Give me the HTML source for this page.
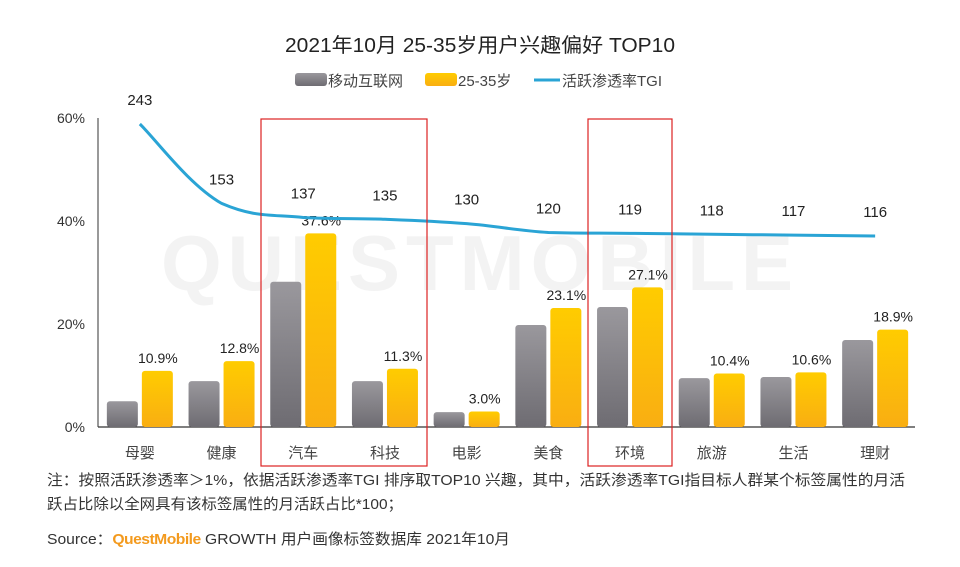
<!DOCTYPE html>
<html><head><meta charset="utf-8"><style>
body{margin:0;background:#fff;font-family:"Liberation Sans","Noto Sans CJK SC",sans-serif;}
svg text{font-family:"Liberation Sans","Noto Sans CJK SC",sans-serif;}
</style></head><body>
<svg id="c" width="960" height="562" viewBox="0 0 960 562" xmlns="http://www.w3.org/2000/svg">
<defs>
<linearGradient id="gg" x1="0" y1="0" x2="0" y2="1"><stop offset="0" stop-color="#9a989d"/><stop offset="1" stop-color="#6e6c72"/></linearGradient>
<linearGradient id="gy" x1="0" y1="0" x2="0" y2="1"><stop offset="0" stop-color="#ffcc00"/><stop offset="1" stop-color="#f9ae12"/></linearGradient>
</defs>
<text x="480" y="290" text-anchor="middle" font-size="78" font-weight="bold" fill="#f3f3f3" letter-spacing="6">QUESTMOBILE</text>
<text x="480" y="52" text-anchor="middle" font-size="20" fill="#222" textLength="390" lengthAdjust="spacingAndGlyphs">2021年10月 25-35岁用户兴趣偏好 TOP10</text>
<g>
<rect x="295" y="73" width="32" height="13" rx="3" fill="url(#gg)"/>
<text x="328" y="86" font-size="15" fill="#444">移动互联网</text>
<rect x="425" y="73" width="32" height="13" rx="3" fill="url(#gy)"/>
<text x="458" y="86" font-size="15" fill="#444">25-35岁</text>
<line x1="534" y1="80" x2="560" y2="80" stroke="#2aa4d5" stroke-width="3"/>
<text x="562" y="86" font-size="15" fill="#444">活跃渗透率TGI</text>
</g>
<g id="axes"></g>
<g id="bars"></g>
<g id="line"></g>
<rect x="261" y="119" width="166" height="347" fill="none" stroke="#d22" stroke-width="1.2"/>
<rect x="588" y="119" width="84" height="347" fill="none" stroke="#d22" stroke-width="1.2"/>
<text x="47" y="485" font-size="15" fill="#333" textLength="858" lengthAdjust="spacingAndGlyphs">注：按照活跃渗透率＞1%，依据活跃渗透率TGI 排序取TOP10 兴趣，其中，活跃渗透率TGI指目标人群某个标签属性的月活</text>
<text x="47" y="509" font-size="15" fill="#333" textLength="356" lengthAdjust="spacingAndGlyphs">跃占比除以全网具有该标签属性的月活跃占比*100；</text>
<text x="47" y="544" font-size="15" fill="#333" textLength="463" lengthAdjust="spacingAndGlyphs">Source：<tspan fill="#f39a1e" font-weight="bold" letter-spacing="-0.5">QuestMobile</tspan> GROWTH 用户画像标签数据库 2021年10月</text>
</svg>
<script>
const categories=["母婴","健康","汽车","科技","电影","美食","环境","旅游","生活","理财"];
const mobileValues=[5.0,8.9,28.2,8.9,2.9,19.8,23.3,9.5,9.7,16.9];
const ageValues=[10.9,12.8,37.6,11.3,3.0,23.1,27.1,10.4,10.6,18.9];
const tgiValues=[243,153,137,135,130,120,119,118,117,116];
const yTicks=[0,20,40,60];
const NS="http://www.w3.org/2000/svg";
const x0=98,x1=915,y0=427,yTop=118;
const band=(x1-x0)/categories.length;
const xC=i=>x0+band*(i+0.5)+1;
const yP=v=>y0-(v/60)*(y0-yTop);
const yT=v=>124+(243-v)*0.882;
function mk(tag,attrs,parent,txt){const e=document.createElementNS(NS,tag);for(const k in attrs)e.setAttribute(k,attrs[k]);if(txt!==undefined)e.textContent=txt;parent.appendChild(e);return e;}
const ax=document.getElementById('axes'),bg=document.getElementById('bars'),lg=document.getElementById('line');
let e=mk('line',{x1:x0,y1:yTop,x2:x0,y2:y0,stroke:'#333','stroke-width':1},ax);


e=mk('line',{x1:x0,y1:y0,x2:x1,y2:y0,stroke:'#333','stroke-width':1.2},ax);


yTicks.forEach(t=>{const el=mk('text',{x:85,y:yP(t)+5,'text-anchor':'end','font-size':14,fill:'#333'},ax,t+'%');

});
categories.forEach((c,i)=>{
const cx=xC(i);
const t=mk('text',{x:cx,y:458,'text-anchor':'middle','font-size':15,fill:'#444'},ax,c);


const g=mk('rect',{x:cx-33,y:yP(mobileValues[i]),width:31,height:y0-yP(mobileValues[i]),rx:3,fill:'url(#gg)'},bg);


const yb=mk('rect',{x:cx+2,y:yP(ageValues[i]),width:31,height:y0-yP(ageValues[i]),rx:3,fill:'url(#gy)'},bg);


const l=mk('text',{x:cx+18,y:yP(ageValues[i])-8,'text-anchor':'middle','font-size':14,fill:'#222'},bg,ageValues[i].toFixed(1)+'%');


});
const pts=tgiValues.map((v,i)=>[xC(i),yT(v)]);
let d='M'+pts[0][0]+','+pts[0][1];
for(let i=0;i<pts.length-1;i++){const p0=pts[i-1]||pts[i],p1=pts[i],p2=pts[i+1],p3=pts[i+2]||p2;
const k=0.2;let c1y=p1[1]+(p2[1]-p0[1])*k,c2y=p2[1]-(p3[1]-p1[1])*k;
c1y=Math.min(Math.max(c1y,Math.min(p1[1],p2[1])),Math.max(p1[1],p2[1]));c2y=Math.min(Math.max(c2y,Math.min(p1[1],p2[1])),Math.max(p1[1],p2[1]));
d+=' C'+(p1[0]+(p2[0]-p0[0])*k)+','+c1y+' '+(p2[0]-(p3[0]-p1[0])*k)+','+c2y+' '+p2[0]+','+p2[1];}
const path=mk('path',{d:d,fill:'none',stroke:'#2aa4d5','stroke-width':3},lg);


pts.forEach((p,i)=>{const t=mk('text',{x:p[0],y:p[1]-19,'text-anchor':'middle','font-size':15,fill:'#222'},lg,tgiValues[i]);

});
</script>
</body></html>
